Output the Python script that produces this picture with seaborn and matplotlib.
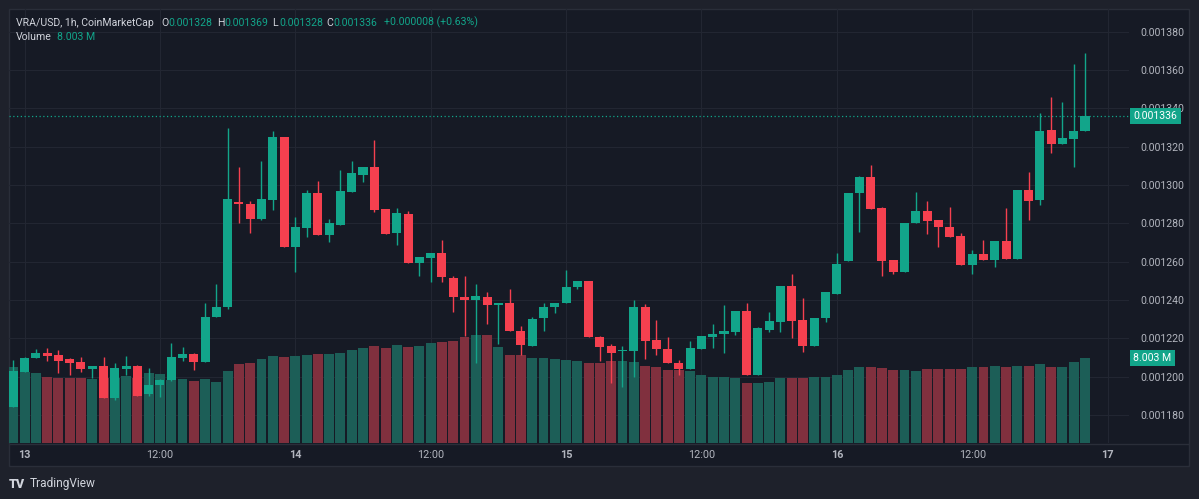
"""VRA/USD 1h candles with volume, TradingView dark look"""
import numpy as np
import pandas as pd
import matplotlib
matplotlib.use("Agg")
import matplotlib.pyplot as plt
import matplotlib.transforms as mtransforms
from matplotlib.patches import Rectangle
from matplotlib.lines import Line2D
import seaborn as sns

# prices in units of 1e-6 USD (0.001336 -> 1336.0)
opens = [1184.3, 1202.3, 1209.6, 1212.5, 1211.3, 1209.2, 1207.5, 1204.2, 1205.4, 1189.0,
         1204.0, 1205.6, 1190.8, 1195.7, 1198.4, 1209.9, 1212.0, 1207.5, 1231.0, 1236.2,
         1291.0, 1290.0, 1282.3, 1292.2, 1324.9, 1267.8, 1277.8, 1295.7, 1273.8, 1279.2,
         1296.5, 1305.2, 1309.6, 1287.3, 1274.8, 1284.7, 1259.5, 1262.1, 1264.4, 1251.7,
         1241.7, 1240.0, 1241.7, 1237.4, 1238.5, 1224.0, 1216.2, 1230.5, 1236.5, 1238.3,
         1247.0, 1249.9, 1220.9, 1216.0, 1213.2, 1213.6, 1236.2, 1219.1, 1214.6, 1207.3,
         1203.9, 1214.6, 1220.9, 1222.1, 1223.5, 1234.1, 1200.9, 1224.4, 1228.5, 1247.3,
         1229.4, 1216.2, 1230.5, 1243.3, 1260.2, 1295.7, 1304.4, 1288.2, 1260.9, 1254.5,
         1280.0, 1286.5, 1281.8, 1278.0, 1273.4, 1258.3, 1264.0, 1260.9, 1270.8, 1261.4,
         1297.4, 1292.2, 1328.7, 1321.3, 1324.0, 1328.0]
highs = [1208.7, 1210.5, 1214.3, 1215.1, 1213.9, 1209.8, 1210.1, 1205.8, 1210.1, 1207.0,
         1211.0, 1206.0, 1204.4, 1198.8, 1217.7, 1215.7, 1212.4, 1238.6, 1248.4, 1329.6,
         1309.3, 1291.7, 1312.7, 1328.4, 1325.2, 1283.5, 1297.4, 1302.3, 1282.3, 1307.9,
         1312.5, 1309.6, 1323.5, 1287.5, 1287.9, 1286.6, 1262.3, 1264.4, 1271.3, 1252.7,
         1252.7, 1248.4, 1244.0, 1238.5, 1245.8, 1226.6, 1231.3, 1238.3, 1238.5, 1255.7,
         1250.0, 1250.2, 1221.0, 1217.1, 1216.0, 1240.0, 1237.9, 1229.6, 1220.9, 1208.7,
         1218.8, 1221.2, 1227.3, 1237.4, 1234.1, 1238.6, 1226.1, 1233.6, 1247.3, 1253.6,
         1240.9, 1230.6, 1244.0, 1264.4, 1295.7, 1305.0, 1310.5, 1288.5, 1261.0, 1280.4,
         1296.5, 1291.7, 1282.0, 1288.7, 1274.8, 1266.1, 1271.3, 1270.8, 1287.9, 1297.4,
         1307.0, 1337.8, 1345.8, 1343.2, 1363.2, 1369.0]
lows = [1184.3, 1202.3, 1209.6, 1208.3, 1201.8, 1200.9, 1202.3, 1199.5, 1189.0, 1187.8,
        1200.9, 1189.9, 1190.0, 1189.4, 1198.0, 1208.3, 1203.5, 1207.5, 1231.0, 1235.3,
        1280.0, 1274.8, 1281.8, 1287.0, 1267.8, 1254.8, 1273.0, 1273.8, 1270.1, 1279.0,
        1296.5, 1301.4, 1286.1, 1274.4, 1268.7, 1259.5, 1252.5, 1249.6, 1249.6, 1233.9,
        1221.2, 1207.0, 1227.5, 1217.1, 1224.0, 1211.3, 1216.2, 1224.0, 1233.1, 1238.3,
        1246.0, 1220.9, 1208.3, 1196.5, 1194.8, 1200.0, 1209.2, 1211.3, 1207.3, 1200.9,
        1203.9, 1214.6, 1215.1, 1212.2, 1221.8, 1200.9, 1200.9, 1223.2, 1223.5, 1220.0,
        1212.7, 1216.2, 1228.7, 1243.3, 1260.2, 1275.3, 1287.5, 1252.7, 1253.6, 1254.5,
        1280.0, 1274.5, 1267.8, 1273.1, 1258.3, 1253.6, 1260.9, 1257.4, 1261.4, 1261.4,
        1281.8, 1289.6, 1316.6, 1321.3, 1309.6, 1328.0]
closes = [1203.1, 1209.9, 1212.5, 1211.0, 1208.3, 1207.3, 1204.0, 1205.4, 1189.0, 1204.4,
          1205.6, 1189.9, 1195.7, 1198.4, 1210.3, 1212.0, 1207.5, 1231.0, 1236.5, 1292.6,
          1290.2, 1282.1, 1292.7, 1324.9, 1267.8, 1278.0, 1295.7, 1273.8, 1280.0, 1296.9,
          1306.3, 1309.6, 1287.0, 1274.4, 1285.3, 1259.5, 1262.3, 1264.4, 1251.9, 1241.7,
          1240.0, 1242.0, 1237.4, 1238.5, 1224.0, 1216.5, 1230.3, 1236.5, 1238.5, 1247.0,
          1250.0, 1220.9, 1215.7, 1212.5, 1213.6, 1236.2, 1218.8, 1214.3, 1207.3, 1203.9,
          1215.0, 1221.2, 1222.1, 1223.8, 1234.1, 1200.9, 1225.3, 1228.9, 1247.3, 1228.9,
          1216.2, 1230.6, 1244.0, 1259.0, 1295.7, 1304.4, 1287.5, 1260.5, 1254.5, 1280.4,
          1286.5, 1281.4, 1278.3, 1273.1, 1258.3, 1264.0, 1260.9, 1270.8, 1261.4, 1297.4,
          1291.7, 1328.4, 1321.3, 1324.4, 1328.4, 1336.0]
# volume in millions
volume = [7.19, 6.66, 6.57, 6.25, 6.15, 6.15, 6.15, 6.00, 6.10, 6.10,
          6.31, 6.10, 6.57, 6.50, 5.94, 6.03, 5.85, 6.03, 5.72, 6.78,
          7.41, 7.56, 7.94, 8.19, 8.13, 8.23, 8.32, 8.35, 8.35, 8.51,
          8.73, 8.96, 9.17, 8.98, 9.23, 9.05, 9.10, 9.38, 9.53, 9.60,
          9.94, 10.13, 10.19, 9.05, 8.32, 8.32, 8.00, 8.00, 7.88, 7.79,
          7.72, 7.56, 7.51, 7.72, 7.72, 7.63, 7.25, 7.19, 6.88, 6.88,
          6.82, 6.44, 6.25, 6.25, 6.13, 5.63, 5.69, 5.79, 6.10, 6.10,
          6.10, 6.19, 6.25, 6.41, 6.88, 7.19, 7.13, 7.03, 6.88, 6.88,
          6.79, 6.94, 7.00, 6.94, 7.00, 7.13, 7.19, 7.29, 7.19, 7.29,
          7.29, 7.41, 7.19, 7.19, 7.66, 8.003]

# candle index 0 = 12th 23:00, one candle per hour
time_tick_idx = [1, 13, 25, 37, 49, 61, 73, 85, 97]
time_tick_labels = ["13", "12:00", "14", "12:00", "15", "12:00", "16", "12:00", "17"]
price_ticks = [0.00118, 0.00120, 0.00122, 0.00124, 0.00126, 0.00128,
               0.00130, 0.00132, 0.00134, 0.00136, 0.00138]

df = pd.DataFrame({"open": opens, "high": highs, "low": lows, "close": closes})
df[["open", "high", "low", "close"]] *= 1e-6
df["volume"] = np.array(volume) * 1e6
df["idx"] = np.arange(len(df))
df["dir"] = np.where(df["close"] >= df["open"], "up", "down")

UP, DOWN = "#12a58a", "#f5404f"
VOL_UP, VOL_DOWN = "#1c5e57", "#80303e"
OUTER, PANEL, BORDER, GRID = "#1e212b", "#161a25", "#2a2e39", "#222632"
TXT, AXTXT = "#d1d4dc", "#b2b5be"

sns.set_theme(style="dark")
plt.rcParams["font.family"] = ["Roboto", "DejaVu Sans"]

W, H = 1199, 499
fig = plt.figure(figsize=(W / 100, H / 100), dpi=100, facecolor=OUTER)

# chart panel with its border (behind the axes)
fig.patches.append(Rectangle((9 / W, 1 - 466 / H), 1180 / W, 457 / H, transform=fig.transFigure,
                             fc=PANEL, ec=BORDER, lw=1, zorder=-10))
fig.lines.append(Line2D([9 / W, 1189 / W], [1 - 443.5 / H] * 2, transform=fig.transFigure,
                        color=BORDER, lw=1, zorder=-9))

left, right, top, bottom = 9, 1129, 9, 443.3
ax = fig.add_axes([left / W, 1 - bottom / H, (right - left) / W, (bottom - top) / H])
ax.patch.set_visible(False)
ax_v = ax.twinx()
ax_c = ax.twinx()

# volume bars
sns.barplot(data=df, x="idx", y="volume", hue="dir", palette={"up": VOL_UP, "down": VOL_DOWN},
            dodge=False, native_scale=True, width=0.88, errorbar=None, legend=False,
            saturation=1, linewidth=0, ax=ax_v)
ax_v.set_ylim(0, 8.003e6 * (bottom - top) / (bottom - 358))

# candles
cols = np.where(df["dir"] == "up", UP, DOWN)
body_lo = df[["open", "close"]].min(axis=1)
body_h = np.maximum((df["close"] - df["open"]).abs(), 0.6e-6)
ax_c.vlines(df["idx"], df["low"], df["high"], colors=cols, lw=1)
ax_c.bar(df["idx"], body_h, bottom=body_lo, width=0.8, color=cols, linewidth=0)

ylim = (1165.25e-6, 1391.9e-6)
for a in (ax, ax_c):
    a.set_ylim(*ylim)
ax.set_xlim(-0.38, 98.9)

# last price line and labels
last = df["close"].iloc[-1]
ax_c.axhline(last, color=UP, lw=0.9, ls=(0, (1, 2)))
trans_c = mtransforms.blended_transform_factory(ax_c.transAxes, ax_c.transData)
ax_c.text(1.004, last, "0.001336", transform=trans_c, ha="left", va="center", color="white",
          fontsize=7.6, bbox=dict(boxstyle="square,pad=0.32", fc=UP, ec="none"), clip_on=False)
trans_v = mtransforms.blended_transform_factory(ax_v.transAxes, ax_v.transData)
ax_v.text(1.004, df["volume"].iloc[-1], "8.003 M", transform=trans_v, ha="left", va="center",
          color="white", fontsize=7.6, bbox=dict(boxstyle="square,pad=0.32", fc=UP, ec="none"),
          clip_on=False, zorder=10)

# axes styling
for a in (ax, ax_v, ax_c):
    for s in a.spines.values():
        s.set_visible(False)
    a.set_xlabel("")
    a.set_ylabel("")
ax_v.set_yticks([])
ax_c.set_yticks([])
ax.yaxis.tick_right()
ax.set_yticks(price_ticks)
ax.set_yticklabels([f"{t:.6f}" for t in price_ticks])
ax.set_xticks(time_tick_idx)
ax.set_xticklabels(time_tick_labels)
ax.tick_params(axis="y", length=0, pad=8, labelsize=7.6, colors=AXTXT, labelright=True, labelleft=False)
ax.tick_params(axis="x", length=0, pad=5, labelsize=7.8, colors=AXTXT)
for lab in ax.get_xticklabels():
    if ":" not in lab.get_text():
        lab.set_fontweight("bold")
ax.grid(True, color=GRID, lw=0.8)
ax_v.grid(False)
ax_c.grid(False)

# legend line at top
def top_text(x, y, s, color, **kw):
    fig.text(x / W, 1 - y / H, s, color=color, fontsize=7.6, ha="left", va="center", **kw)

top_text(16, 22.5, "VRA/USD, 1h, CoinMarketCap", TXT)
for lx, vx, lab, val in [(161, 168, "O", "0.001328"), (217, 224.5, "H", "0.001369"),
                         (272, 279, "L", "0.001328"), (326, 333, "C", "0.001336")]:
    top_text(lx, 22.5, lab, TXT)
    top_text(vx, 22.5, val, UP)
top_text(384, 22.5, "+0.000008 (+0.63%)", UP)
top_text(16, 37.5, "Volume", TXT)
top_text(57, 37.5, "8.003 M", UP)

# footer
fig.text(9 / W, 1 - 484 / H, "TV", color=TXT, fontsize=9, fontweight="heavy", ha="left", va="center")
fig.text(30 / W, 1 - 484 / H, "TradingView", color=TXT, fontsize=8.6, ha="left", va="center")

fig.savefig("out.png", dpi=100, facecolor=OUTER)
